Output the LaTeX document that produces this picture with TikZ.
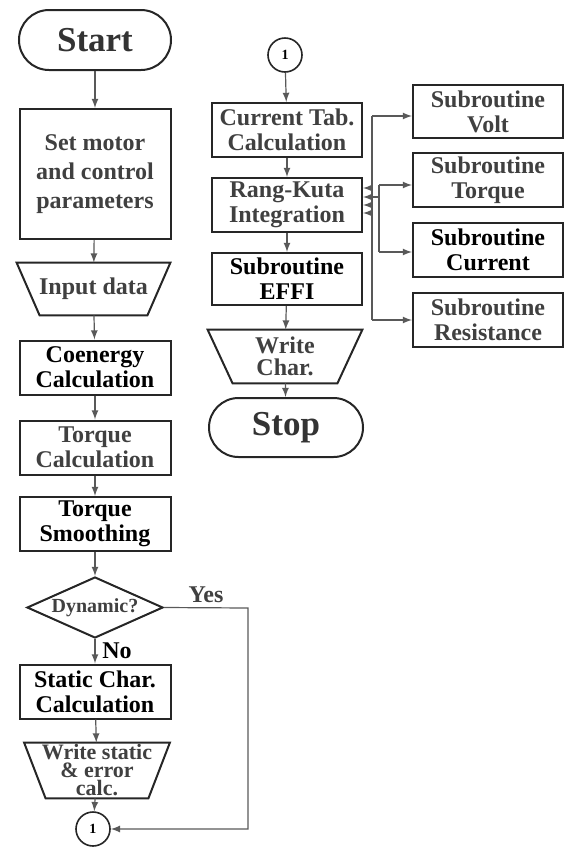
\documentclass[tikz,border=0pt]{standalone}
\usepackage{fontspec}
\setmainfont{Liberation Serif}
\usetikzlibrary{shapes.geometric,shapes.misc}
\tikzset{
  box/.style={draw=black!85,line width=1pt,minimum width=75.5pt,minimum height=27pt,inner sep=1pt,align=center,font=\bfseries\fontsize{12}{12.5}\selectfont},
  term/.style={rounded rectangle,draw=black!85,line width=1pt,minimum width=78pt,minimum height=30pt,inner sep=1pt,text=black!80,font=\bfseries\fontsize{17.5}{18}\selectfont},
  io/.style={inner sep=0pt,align=center,font=\bfseries\fontsize{12}{11}\selectfont},
  ioline/.style={draw=black!85,line width=1pt,line join=miter},
  conn/.style={circle,draw=black!85,line width=0.8pt,minimum size=17pt,inner sep=0pt,font=\bfseries\fontsize{7}{7}\selectfont},
  decide/.style={diamond,aspect=2.23,draw=black!85,line width=1pt,minimum width=68pt,minimum height=30.5pt,inner sep=0pt,text=black!75,font=\bfseries\fontsize{10}{10}\selectfont},
  faded/.style={text=black!75},
  flow/.style={draw=black!65,line width=0.6pt}
}
\begin{document}
\begin{tikzpicture}[x=0.5pt,y=-0.5pt,>=latex]
\useasboundingbox (0,0) rectangle (565,847);
% main column
\node[term] (start) at (95,40) {Start};
\node[box,faded,minimum height=65pt,font=\bfseries\fontsize{12}{14.5}\selectfont] (setp) at (95,174) {Set motor\\and control\\parameters};
\node[io,faded,minimum width=76.5pt,minimum height=26pt] (input) at (93.5,289) {Input data};
\draw[ioline] (input.north west) -- (input.north east) -- ([xshift=-11.5pt]input.south east) -- ([xshift=11.5pt]input.south west) -- cycle;
\node[box] (coen) at (95,367.5) {Coenergy\\Calculation};
\node[box,faded] (tcalc) at (95,447.5) {Torque\\Calculation};
\node[box] (tsmooth) at (95,524) {Torque\\Smoothing};
\node[decide] (dyn) at (95,607.5) {Dynamic?};
\node[box] (stat) at (95,691.5) {Static Char.\\Calculation};
\node[io,faded,minimum width=72.5pt,minimum height=27.5pt,font=\bfseries\fontsize{11}{9}\selectfont\lineskiplimit-10pt\relax] (wstat) at (97,770.5)
  {Write static\\\& error\\calc.};
\draw[ioline] (wstat.north west) -- (wstat.north east) -- ([xshift=-10.75pt]wstat.south east) -- ([xshift=10.75pt]wstat.south west) -- cycle;
\node[conn] (c1) at (93,829) {1};
\coordinate (yescorner) at (248,608);
\draw[flow,->] (start) -- (setp);
\draw[flow,->] (setp) -- (input);
\draw[flow,->] (input) -- (coen);
\draw[flow,->] (coen) -- (tcalc);
\draw[flow,->] (tcalc) -- (tsmooth);
\draw[flow,->] (tsmooth) -- (dyn);
\draw[flow,->] (dyn) -- node[right=0pt,font=\bfseries\fontsize{12}{12}\selectfont]{No} (stat);
\draw[flow,->] (stat) -- (wstat);
\draw[flow,->] (wstat) -- (c1);
\draw[flow,->] (dyn.east) -- node[above=-1pt,faded,font=\bfseries\fontsize{12}{12}\selectfont]{Yes} (yescorner) |- (c1);
% second column
\node[conn] (rc1) at (285,55) {1};
\node[box,faded,minimum width=75pt] (ctab) at (287,130) {Current Tab.\\Calculation};
\node[box,faded,minimum width=75pt] (rk) at (287,205) {Rang-Kuta\\Integration};
\node[box,minimum width=75pt,minimum height=26pt] (effi) at (287,279) {Subroutine\\EFFI};
\node[io,faded,minimum width=77pt,minimum height=26.5pt] (wchar) at (285,356.5) {Write\\Char.};
\draw[ioline] (wchar.north west) -- (wchar.north east) -- ([xshift=-12.5pt]wchar.south east) -- ([xshift=12.5pt]wchar.south west) -- cycle;
\node[term,minimum width=79pt,minimum height=29.5pt] (stop) at (286,427.5) {Stop};
\draw[flow,->] (rc1) -- (ctab);
\draw[flow,->] (ctab) -- (rk);
\draw[flow,->] (rk) -- (effi);
\draw[flow,->] (effi) -- (wchar);
\draw[flow,->] (wchar) -- (stop);
% subroutines
\node[box,faded,minimum width=75pt,minimum height=26.5pt] (volt) at (488,111.5) {Subroutine\\Volt};
\node[box,faded,minimum width=75pt] (torq) at (488,180) {Subroutine\\Torque};
\node[box,minimum width=75pt] (curr) at (488,250) {Subroutine\\Current};
\node[box,faded,minimum width=75pt] (resi) at (488,320) {Subroutine\\Resistance};
\coordinate (b1) at (372,116);
\coordinate (b4) at (372,320);
\coordinate (bj) at (372,197);
\coordinate (b2) at (379,185);
\coordinate (b3) at (379,252);
\draw[flow] (b1) -- (b4);
\draw[flow] (bj) -- (bj -| b2);
\draw[flow] (b2) -- (b3);
\draw[flow,->] (b1) -- (b1 -| volt.west);
\draw[flow,->] (b2) -- (b2 -| torq.west);
\draw[flow,->] (b3) -- (b3 -| curr.west);
\draw[flow,->] (b4) -- (b4 -| resi.west);
\foreach \y in {188,197,205,213}
  \draw[flow,->] (372,\y) -- (rk.east |- 0,\y);
\end{tikzpicture}
\end{document}
